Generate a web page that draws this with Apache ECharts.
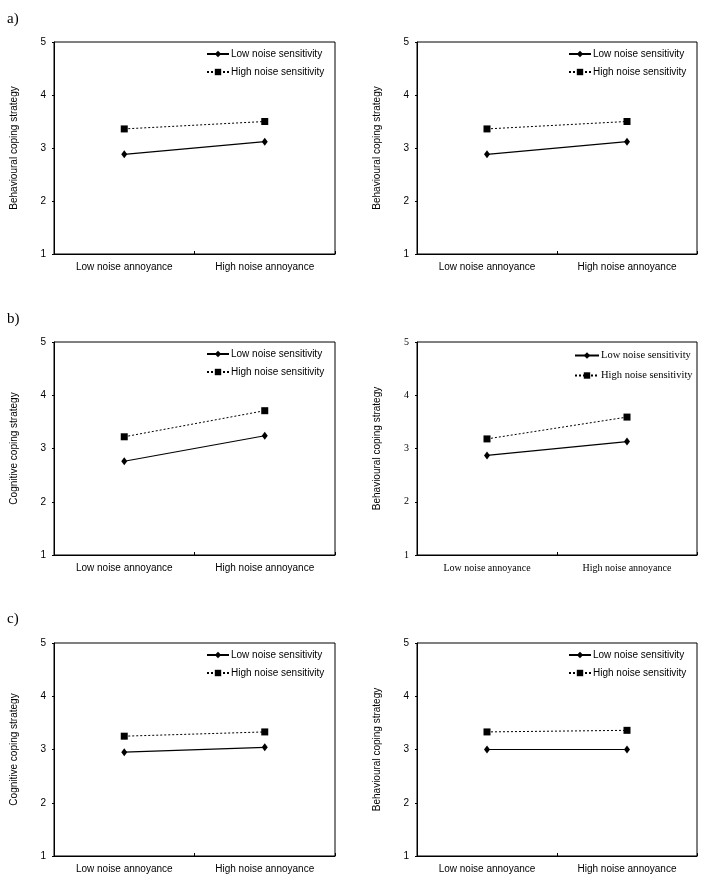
<!DOCTYPE html>
<html>
<head>
<meta charset="utf-8">
<script src="https://cdn.jsdelivr.net/npm/echarts@6/dist/echarts.min.js"></script>
<style>html,body{margin:0;padding:0;background:#fff}#c{width:703px;height:879px}</style>
</head>
<body>
<div id="c"></div>
<script>
// ---- data ----
const categories = ['Low noise annoyance', 'High noise annoyance'];
const seriesNames = ['Low noise sensitivity', 'High noise sensitivity'];
const yTicks = [1, 2, 3, 4, 5];
const panelLabels = ['a)', 'b)', 'c)'];
const yNames = [
  'Behavioural coping strategy', 'Behavioural coping strategy',
  'Cognitive coping strategy', 'Behavioural coping strategy',
  'Cognitive coping strategy', 'Behavioural coping strategy'
];
const aLeftLow = [2.88, 3.12];
const aLeftHigh = [3.36, 3.50];
const aRightLow = [2.88, 3.12];
const aRightHigh = [3.36, 3.50];
const bLeftLow = [2.76, 3.24];
const bLeftHigh = [3.22, 3.71];
const bRightLow = [2.87, 3.13];
const bRightHigh = [3.18, 3.59];
const cLeftLow = [2.95, 3.04];
const cLeftHigh = [3.25, 3.33];
const cRightLow = [3.00, 3.00];
const cRightHigh = [3.33, 3.36];

const panelData = [
  [aLeftLow, aLeftHigh], [aRightLow, aRightHigh],
  [bLeftLow, bLeftHigh], [bRightLow, bRightHigh],
  [cLeftLow, cLeftHigh], [cRightLow, cRightHigh]
];

// ---- layout ----
const SANS = 'Liberation Sans, Arial, sans-serif';
const SERIF = 'Liberation Serif, Times New Roman, serif';
const rowTops = [42, 342, 643];
const rowHeights = [212, 213, 213];
const colLefts = [54, 417];
const colWidths = [281, 280];
const serifPanel = 3; // b) right uses a serif font

const grids = [], xAxes = [], yAxes = [], series = [], legends = [], graphics = [];
for (let p = 0; p < 6; p++) {
  const r = Math.floor(p / 2), c = p % 2;
  const left = colLefts[c], top = rowTops[r];
  const isSerif = p === serifPanel;
  const font = isSerif ? SERIF : SANS;
  grids.push({ left: left, top: top, width: colWidths[c], height: rowHeights[r],
    show: true, borderColor: '#000', borderWidth: 1, backgroundColor: 'transparent', containLabel: false });
  xAxes.push({ type: 'category', gridIndex: p, data: categories, boundaryGap: true,
    axisLine: { lineStyle: { color: '#000', width: 1 } },
    axisTick: { show: true, inside: true, length: 3, lineStyle: { color: '#000' } },
    axisLabel: { color: '#000', fontFamily: font, fontSize: 10, margin: 8 },
    splitLine: { show: false } });
  yAxes.push({ type: 'value', gridIndex: p, min: 1, max: 5, interval: 1,
    name: yNames[p], nameLocation: 'middle', nameRotate: 90, nameGap: 35,
    nameTextStyle: { color: '#000', fontFamily: SANS, fontSize: 10 },
    axisLine: { show: true, lineStyle: { color: '#000', width: 1 } },
    axisTick: { show: true, length: 2, lineStyle: { color: '#000' } },
    axisLabel: { color: '#000', fontFamily: font, fontSize: 10, margin: 8,
      formatter: v => yTicks.includes(v) ? String(v) : '' },
    splitLine: { show: false } });
  const [low, high] = panelData[p];
  series.push({ name: seriesNames[0], type: 'line', xAxisIndex: p, yAxisIndex: p, data: low,
    symbol: 'diamond', symbolSize: [6, 8], itemStyle: { color: '#000' },
    lineStyle: { color: '#000', width: 1.2, type: 'solid' }, animation: false });
  series.push({ name: seriesNames[1], type: 'line', xAxisIndex: p, yAxisIndex: p, data: high,
    symbol: 'rect', symbolSize: 7, itemStyle: { color: '#000' },
    lineStyle: { color: '#000', width: 1, type: [2, 2] }, animation: false });
  legends.push({ data: seriesNames, orient: 'vertical',
    left: left + colWidths[c] - (isSerif ? 128 : 134), top: top + 2 + (isSerif ? 1 : 0),
    itemWidth: isSerif ? 24 : 22, itemHeight: 8, itemGap: isSerif ? 9 : 8, selectedMode: false,
    textStyle: { color: '#000', fontFamily: font, fontSize: isSerif ? 10.5 : 10, padding: [0, 0, 0, -3] } });
}
for (let r = 0; r < 3; r++) {
  graphics.push({ type: 'text', left: 7, top: [12, 312, 612][r],
    style: { text: panelLabels[r], font: '15px ' + SERIF, fill: '#000' } });
}

const chart = echarts.init(document.getElementById('c'), null, { renderer: 'canvas' });
chart.setOption({
  backgroundColor: '#fff', animation: false,
  grid: grids, xAxis: xAxes, yAxis: yAxes, series: series, legend: legends, graphic: graphics
});
</script>
</body>
</html>
